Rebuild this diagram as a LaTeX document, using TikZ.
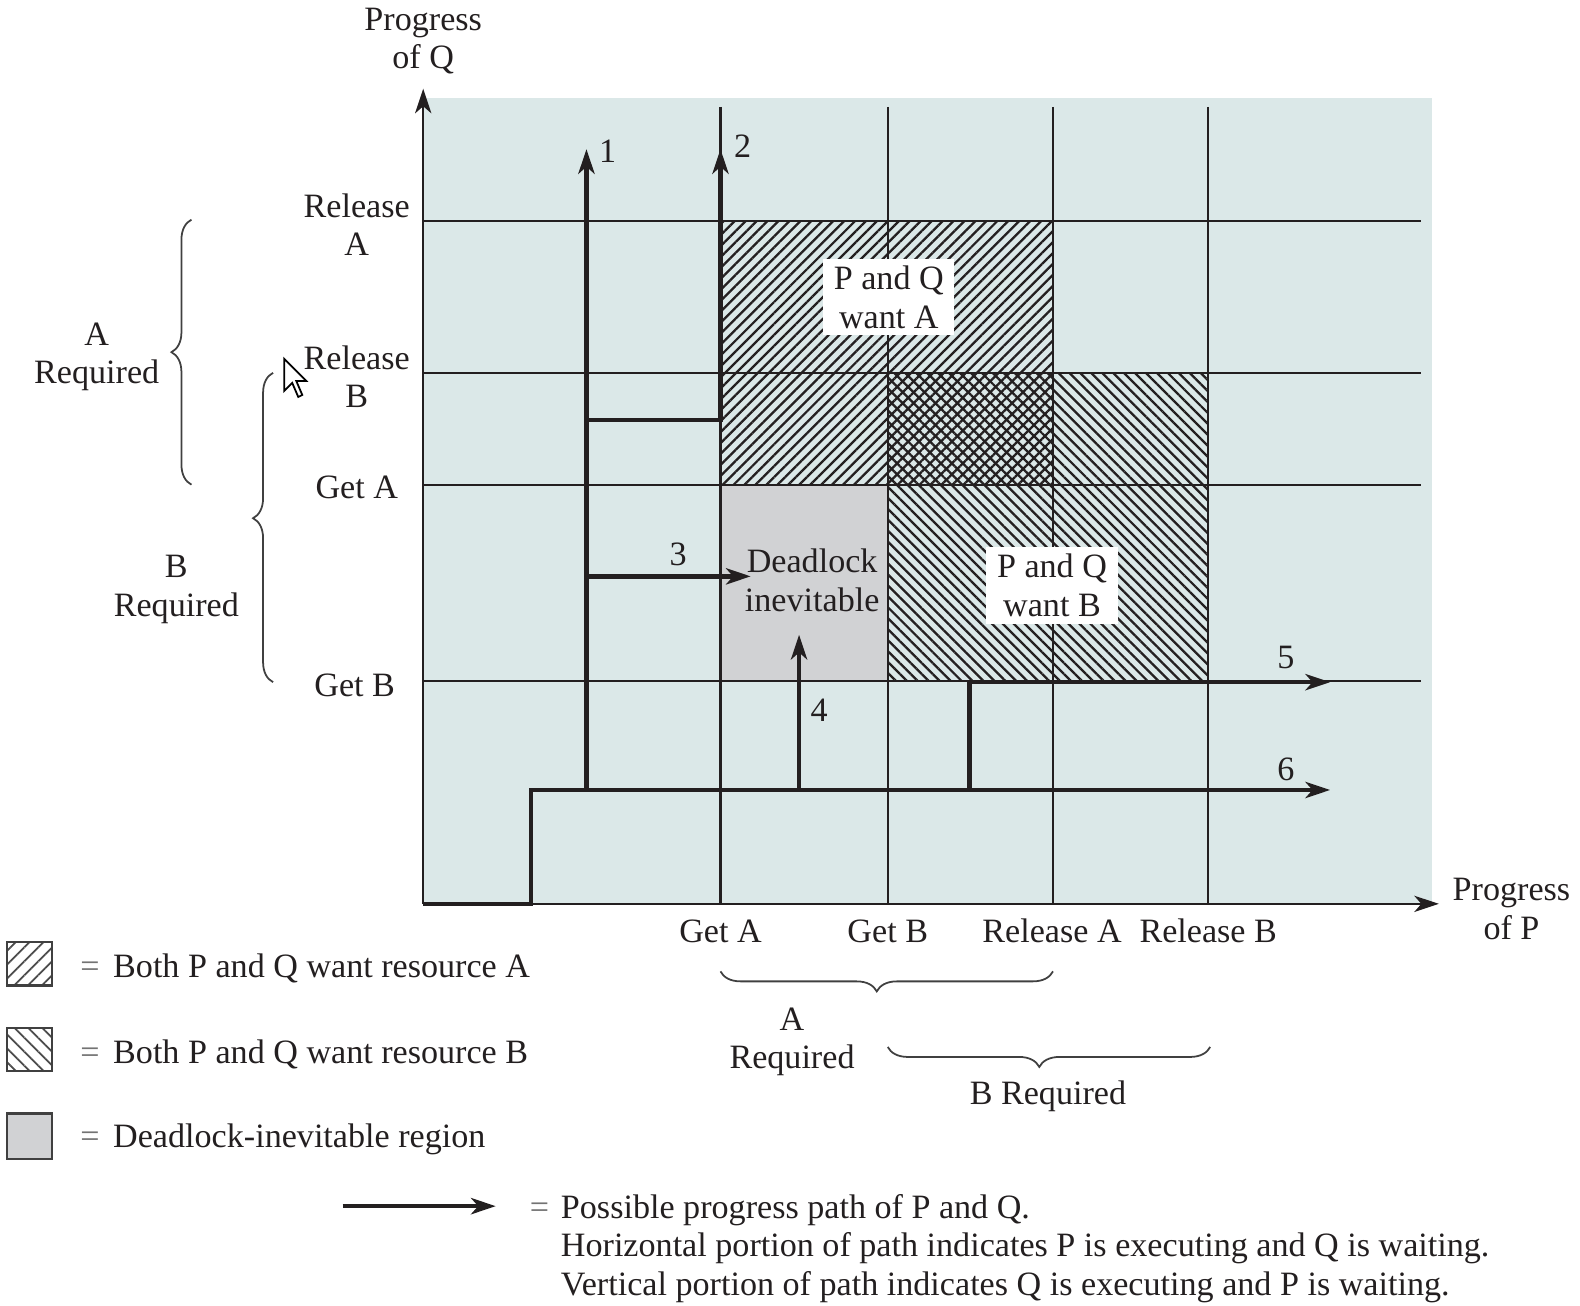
\documentclass[tikz,border=0pt]{standalone}
\usepackage{fontspec}
\setmainfont{Liberation Serif}
\usetikzlibrary{arrows.meta, patterns.meta, decorations.pathreplacing, positioning, calc}

\definecolor{gridbg}{RGB}{219,232,232}
\definecolor{deadgray}{RGB}{209,210,212}
\definecolor{inkdark}{RGB}{35,31,32}

\begin{document}
\begin{tikzpicture}[x=0.010077cm, y=-0.010077cm, >={Stealth[length=7pt, width=4.6pt, inset=2pt]},
  font=\fontsize{9.7}{10.9}\selectfont]
  % --- STYLE DEFINITIONS ---
  \tikzstyle{gridline}=[inkdark, line width=0.6pt]
  \tikzstyle{axis}=[inkdark, line width=0.7pt, ->]
  \tikzstyle{pathline}=[inkdark, line width=1.3pt]
  \tikzstyle{hatchA}=[pattern={Lines[angle=45, distance=2.2pt, line width=0.65pt]}, pattern color=inkdark]
  \tikzstyle{hatchB}=[pattern={Lines[angle=-45, distance=2.2pt, line width=0.65pt]}, pattern color=inkdark]
  \tikzstyle{keyA}=[pattern={Lines[angle=45, distance=2.8pt, line width=0.5pt]}, pattern color=black!70]
  \tikzstyle{keyB}=[pattern={Lines[angle=-45, distance=2.8pt, line width=0.5pt]}, pattern color=black!70]
  \tikzstyle{keybox}=[draw=black!75, line width=0.6pt]
  \tikzstyle{ticklabel}=[align=center, inner sep=1pt, text=inkdark, yshift=-0.3mm]
  \tikzstyle{regionlabel}=[fill=white, align=center, inner xsep=3pt, inner ysep=2pt, text=inkdark]
  \tikzstyle{curly}=[decorate, decoration={brace, amplitude=0.2cm}, black!75, line width=0.5pt]
  \tikzstyle{pathnum}=[inner sep=1pt, text=inkdark, yshift=-0.2mm]
  \tikzstyle{keytext}=[anchor=west, inner sep=0pt, text=inkdark, yshift=-0.3mm]

  \useasboundingbox (0,0) rectangle (1568,1296);

  % =================================================================
  % PROGRESS SPACE: BACKGROUND AND REGIONS
  % =================================================================
  \fill[gridbg] (420,97) rectangle (1421,897);
  \fill[deadgray] (715,481) rectangle (881,676);
  \fill[hatchA] (715,219) rectangle (1045,481);
  \fill[hatchB] (881,370) rectangle (1199,676);

  % grid lines
  \foreach \gx in {715, 881, 1045, 1199}
    \draw[gridline] (\gx,106) -- (\gx,897);
  \foreach \gy in {219, 370, 481, 676}
    \draw[gridline] (420,\gy) -- (1410,\gy);

  % axes
  \coordinate (O) at (420,897);
  \coordinate (Qtip) at (420,88);
  \coordinate (Ptip) at (1428,897);
  \draw[axis] (O) -- (Qtip);
  \draw[axis] (O) -- (Ptip);

  \node[ticklabel] (qaxis) at (420,38) {Progress\\of Q};
  \node[ticklabel] (paxis) at (1500,899) {Progress\\of P};

  % Q ticks
  \node[ticklabel] (qrelA) at (354,220) {Release\\A};
  \node[ticklabel] (qrelB) at (354,371) {Release\\B};
  \node[ticklabel] (qgetA) at (354,481) {Get A};
  \node[ticklabel] (qgetB) at (352,677) {Get B};

  % P ticks
  \node[ticklabel] (pgetA) at (715,921) {Get A};
  \node[ticklabel] (pgetB) at (881,921) {Get B};
  \node[ticklabel] (prelA) at (1044,921) {Release A};
  \node[ticklabel] (prelB) at (1199,921) {Release B};

  % region labels
  \node[regionlabel] (wantA) at (882,295) {P and Q\\want A};
  \node[regionlabel] (wantB) at (1044,581) {P and Q\\want B};
  \node[ticklabel] (dead) at (806,573) {Deadlock\\inevitable};

  % =================================================================
  % PROGRESS PATHS 1--6
  % =================================================================
  \coordinate (c1) at (527,897);
  \coordinate (c2) at (527,784);
  \coordinate (t6) at (1320,784);
  \coordinate (b1) at (582,784);
  \coordinate (t1) at (582,148);
  \coordinate (b2) at (582,417);
  \coordinate (k2) at (715,417);
  \coordinate (t2) at (715,148);
  \coordinate (b3) at (582,572);
  \coordinate (t3) at (745,572);
  \coordinate (b4) at (793,784);
  \coordinate (t4) at (793,630);
  \coordinate (b5) at (962,784);
  \coordinate (k5) at (962,677);
  \coordinate (t5) at (1320,677);

  \draw[pathline, ->] (O) -- (c1) -- (c2) -- (t6);
  \draw[pathline, ->] (b1) -- (t1);
  \draw[pathline, ->] (b2) -- (k2) -- (t2);
  \draw[pathline, ->] (b3) -- (t3);
  \draw[pathline, ->] (b4) -- (t4);
  \draw[pathline, ->] (b5) -- (k5) -- (t5);

  \node[pathnum] (n1) at (603,148) {1};
  \node[pathnum] (n2) at (737,143) {2};
  \node[pathnum] (n3) at (673,548) {3};
  \node[pathnum] (n4) at (813,703) {4};
  \node[pathnum] (n5) at (1276,651) {5};
  \node[pathnum] (n6) at (1276,762) {6};

  % =================================================================
  % BRACES
  % =================================================================
  \draw[curly] (190,481) -- (190,218);
  \node[ticklabel] (reqAq) at (96,351) {A\\Required};
  \draw[curly, decoration={aspect=0.53}] (271,677) -- (271,370);
  \node[ticklabel] (reqBq) at (175,582) {B\\Required};
  \draw[curly, decoration={aspect=0.53}] (1045,964) -- (715,964);
  \node[ticklabel] (reqAp) at (786,1031) {A\\Required};
  \draw[curly, decoration={aspect=0.53}] (1201,1039) -- (881,1039);
  \node[ticklabel] (reqBp) at (1040,1085) {B Required};

  % mouse pointer
  \draw[black, fill=white, line width=0.5pt, shift={(282,356)}]
    (0,0) -- (0,32) -- (8,24) -- (14,38) -- (18,36) -- (12,22) -- (22,22) -- cycle;

  % =================================================================
  % LEGEND
  % =================================================================
  \fill[white] (7,935) rectangle (52,978);
  \draw[keybox, keyA] (7,935) rectangle (52,978);
  \fill[white] (7,1020) rectangle (52,1063);
  \draw[keybox, keyB] (7,1020) rectangle (52,1063);
  \draw[keybox, fill=deadgray] (7,1105) rectangle (52,1150);

  \node[keytext] (keyAtext) at (79,958)
    {{\color{black!55}=}\hspace{0.4em}Both P and Q want resource A};
  \node[keytext] (keyBtext) at (79,1043)
    {{\color{black!55}=}\hspace{0.4em}Both P and Q want resource B};
  \node[keytext] (keyDtext) at (79,1128)
    {{\color{black!55}=}\hspace{0.4em}Deadlock-inevitable region};

  \coordinate (la1) at (340,1197);
  \coordinate (la2) at (492,1197);
  \draw[pathline, ->] (la1) -- (la2);
  \node[keytext, align=left] (pathnote) at (556,1236)
    {\llap{{\color{black!55}=}\hspace{0.35em}}Possible progress path of P and Q.\\
     Horizontal portion of path indicates P is executing and Q is waiting.\\
     Vertical portion of path indicates Q is executing and P is waiting.};

\end{tikzpicture}
\end{document}
